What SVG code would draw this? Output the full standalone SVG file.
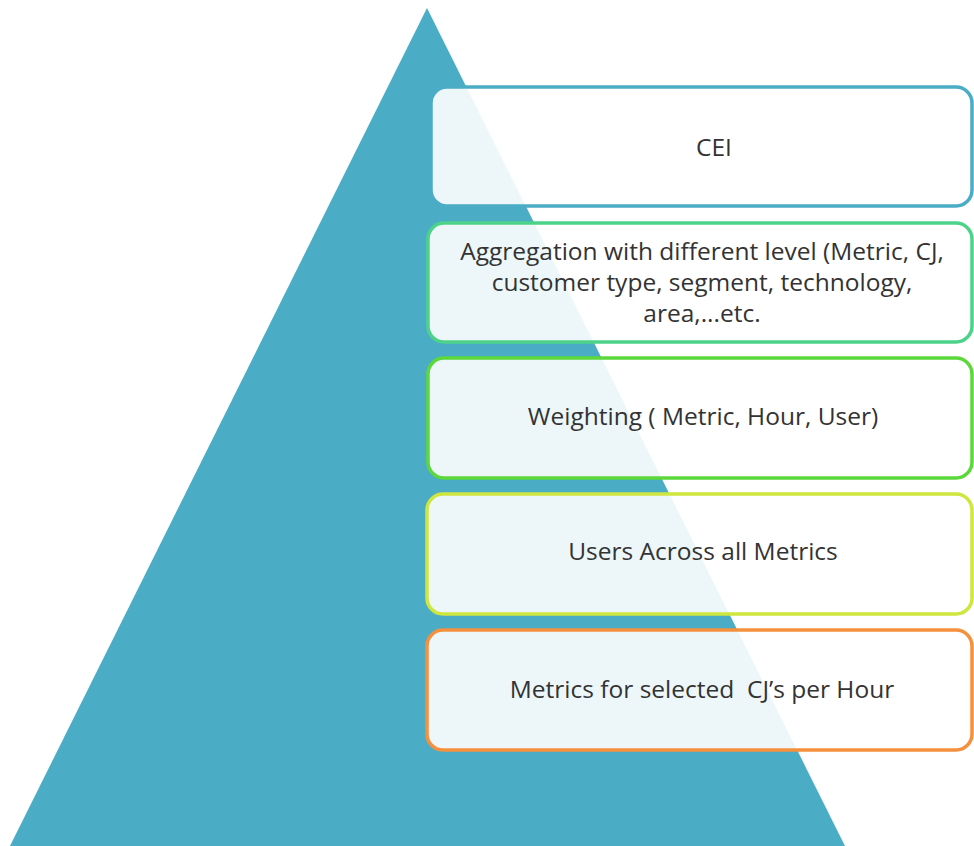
<svg xmlns="http://www.w3.org/2000/svg" width="974" height="846" viewBox="0 0 974 846">
<style>
.box{fill:#ffffff;fill-opacity:0.9;stroke-width:3.5}
.t{font-family:"Open Sans","Liberation Sans",Arial,sans-serif;font-size:24.5px;fill:#333333;text-anchor:middle;white-space:pre}
</style>
<rect width="974" height="846" fill="#ffffff"/>
<g id="pyramid">
<polygon points="427,8 8,850 847,850" fill="#4BACC6"/>
</g>
<g id="connectors"></g>
<g id="cei">
<rect class="box" x="431" y="87" width="541" height="119" rx="16" stroke="#4BACC6"/>
<text class="t" x="714" y="156">CEI</text>
</g>
<g id="aggregation">
<rect class="box" x="428" y="223" width="544" height="119" rx="16" stroke="#4DD389"/>
<text class="t" x="702" y="260">Aggregation with different level (Metric, CJ,</text>
<text class="t" x="702" y="291">customer type, segment, technology,</text>
<text class="t" x="702" y="322">area,...etc.</text>
</g>
<g id="weighting">
<rect class="box" x="428" y="358" width="544" height="120" rx="16" stroke="#5CD83C"/>
<text class="t" x="703" y="425">Weighting ( Metric, Hour, User)</text>
</g>
<g id="users">
<rect class="box" x="427" y="494" width="545" height="120" rx="16" stroke="#CFE63E"/>
<text class="t" x="703" y="560">Users Across all Metrics</text>
</g>
<g id="metrics">
<rect class="box" x="427" y="630" width="545" height="120" rx="16" stroke="#F5913E"/>
<text class="t" x="702" y="698">Metrics for selected  CJ’s per Hour</text>
</g>
</svg>
